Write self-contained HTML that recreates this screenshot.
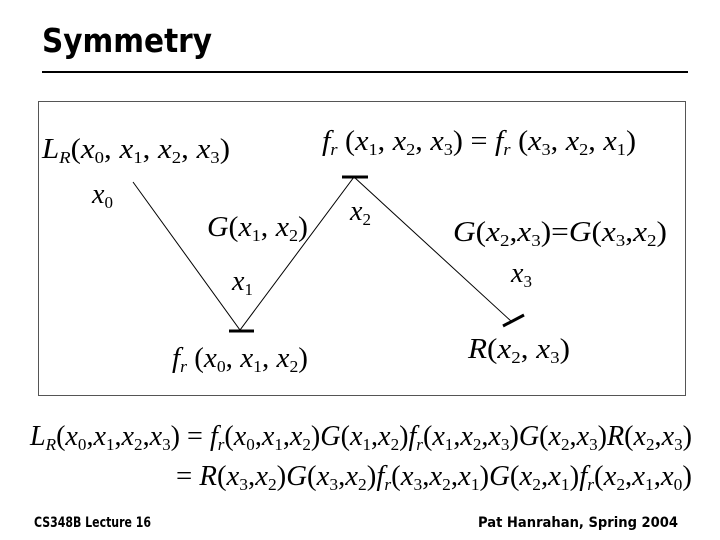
<!DOCTYPE html>
<html><head><meta charset="utf-8"><style>
html,body{margin:0;padding:0;background:#fff}
svg{display:block}
.m{font-family:"Liberation Serif",serif;font-size:28px;fill:#000}
.i{font-style:italic}
.s{font-size:17px}
.t{font-family:"DejaVu Sans","Liberation Sans",sans-serif;font-weight:bold}
</style></head><body>
<svg width="720" height="540" viewBox="0 0 720 540" xmlns="http://www.w3.org/2000/svg">
<text x="42" y="52" class="t" font-size="33" textLength="170" lengthAdjust="spacingAndGlyphs">Symmetry</text>
<rect x="42" y="71" width="646" height="2" fill="#000"/>
<rect x="38.5" y="101.5" width="647" height="294" fill="none" stroke="#555" stroke-width="1"/>
<g stroke="#000" stroke-width="1" fill="none">
<polyline points="133,182 240,330 354,177 512,322"/>
</g>
<g stroke="#000" stroke-width="3">
<line x1="229" y1="331" x2="254" y2="331"/>
<line x1="342" y1="177" x2="368" y2="177"/>
<line x1="503" y1="326" x2="524" y2="315"/>
</g>
<text class="m" x="42" y="158" textLength="188" lengthAdjust="spacingAndGlyphs"><tspan class="i">L</tspan><tspan class="s i" dy="5">R</tspan><tspan dy="-5">(</tspan><tspan class="i">x</tspan><tspan class="s" dy="5">0</tspan><tspan dy="-5">, </tspan><tspan class="i">x</tspan><tspan class="s" dy="5">1</tspan><tspan dy="-5">, </tspan><tspan class="i">x</tspan><tspan class="s" dy="5">2</tspan><tspan dy="-5">, </tspan><tspan class="i">x</tspan><tspan class="s" dy="5">3</tspan><tspan dy="-5">)</tspan></text>
<text class="m" x="322" y="150" textLength="314" lengthAdjust="spacingAndGlyphs"><tspan class="i">f</tspan><tspan class="s i" dy="5">r</tspan><tspan dy="-5"> (</tspan><tspan class="i">x</tspan><tspan class="s" dy="5">1</tspan><tspan dy="-5">, </tspan><tspan class="i">x</tspan><tspan class="s" dy="5">2</tspan><tspan dy="-5">, </tspan><tspan class="i">x</tspan><tspan class="s" dy="5">3</tspan><tspan dy="-5">) = </tspan><tspan class="i">f</tspan><tspan class="s i" dy="5">r</tspan><tspan dy="-5"> (</tspan><tspan class="i">x</tspan><tspan class="s" dy="5">3</tspan><tspan dy="-5">, </tspan><tspan class="i">x</tspan><tspan class="s" dy="5">2</tspan><tspan dy="-5">, </tspan><tspan class="i">x</tspan><tspan class="s" dy="5">1</tspan><tspan dy="-5">)</tspan></text>
<text class="m" x="92" y="203"><tspan class="i">x</tspan><tspan class="s" dy="5">0</tspan></text>
<text class="m" x="350" y="220"><tspan class="i">x</tspan><tspan class="s" dy="5">2</tspan></text>
<text class="m" x="232" y="290"><tspan class="i">x</tspan><tspan class="s" dy="5">1</tspan></text>
<text class="m" x="511" y="282"><tspan class="i">x</tspan><tspan class="s" dy="5">3</tspan></text>
<text class="m" x="207" y="236" textLength="101" lengthAdjust="spacingAndGlyphs"><tspan class="i">G</tspan><tspan>(</tspan><tspan class="i">x</tspan><tspan class="s" dy="5">1</tspan><tspan dy="-5">, </tspan><tspan class="i">x</tspan><tspan class="s" dy="5">2</tspan><tspan dy="-5">)</tspan></text>
<text class="m" x="453" y="241" textLength="214" lengthAdjust="spacingAndGlyphs"><tspan class="i">G</tspan><tspan>(</tspan><tspan class="i">x</tspan><tspan class="s" dy="5">2</tspan><tspan dy="-5">,</tspan><tspan class="i">x</tspan><tspan class="s" dy="5">3</tspan><tspan dy="-5">)=</tspan><tspan class="i">G</tspan><tspan>(</tspan><tspan class="i">x</tspan><tspan class="s" dy="5">3</tspan><tspan dy="-5">,</tspan><tspan class="i">x</tspan><tspan class="s" dy="5">2</tspan><tspan dy="-5">)</tspan></text>
<text class="m" x="172" y="367" textLength="136" lengthAdjust="spacingAndGlyphs"><tspan class="i">f</tspan><tspan class="s i" dy="5">r</tspan><tspan dy="-5"> (</tspan><tspan class="i">x</tspan><tspan class="s" dy="5">0</tspan><tspan dy="-5">, </tspan><tspan class="i">x</tspan><tspan class="s" dy="5">1</tspan><tspan dy="-5">, </tspan><tspan class="i">x</tspan><tspan class="s" dy="5">2</tspan><tspan dy="-5">)</tspan></text>
<text class="m" x="468" y="358" textLength="102" lengthAdjust="spacingAndGlyphs"><tspan class="i">R</tspan><tspan>(</tspan><tspan class="i">x</tspan><tspan class="s" dy="5">2</tspan><tspan dy="-5">, </tspan><tspan class="i">x</tspan><tspan class="s" dy="5">3</tspan><tspan dy="-5">)</tspan></text>
<text class="m" x="30" y="445" textLength="662" lengthAdjust="spacingAndGlyphs"><tspan class="i">L</tspan><tspan class="s i" dy="5">R</tspan><tspan dy="-5">(</tspan><tspan class="i">x</tspan><tspan class="s" dy="5">0</tspan><tspan dy="-5">,</tspan><tspan class="i">x</tspan><tspan class="s" dy="5">1</tspan><tspan dy="-5">,</tspan><tspan class="i">x</tspan><tspan class="s" dy="5">2</tspan><tspan dy="-5">,</tspan><tspan class="i">x</tspan><tspan class="s" dy="5">3</tspan><tspan dy="-5">) = </tspan><tspan class="i">f</tspan><tspan class="s i" dy="5">r</tspan><tspan dy="-5">(</tspan><tspan class="i">x</tspan><tspan class="s" dy="5">0</tspan><tspan dy="-5">,</tspan><tspan class="i">x</tspan><tspan class="s" dy="5">1</tspan><tspan dy="-5">,</tspan><tspan class="i">x</tspan><tspan class="s" dy="5">2</tspan><tspan dy="-5">)</tspan><tspan class="i">G</tspan><tspan>(</tspan><tspan class="i">x</tspan><tspan class="s" dy="5">1</tspan><tspan dy="-5">,</tspan><tspan class="i">x</tspan><tspan class="s" dy="5">2</tspan><tspan dy="-5">)</tspan><tspan class="i">f</tspan><tspan class="s i" dy="5">r</tspan><tspan dy="-5">(</tspan><tspan class="i">x</tspan><tspan class="s" dy="5">1</tspan><tspan dy="-5">,</tspan><tspan class="i">x</tspan><tspan class="s" dy="5">2</tspan><tspan dy="-5">,</tspan><tspan class="i">x</tspan><tspan class="s" dy="5">3</tspan><tspan dy="-5">)</tspan><tspan class="i">G</tspan><tspan>(</tspan><tspan class="i">x</tspan><tspan class="s" dy="5">2</tspan><tspan dy="-5">,</tspan><tspan class="i">x</tspan><tspan class="s" dy="5">3</tspan><tspan dy="-5">)</tspan><tspan class="i">R</tspan><tspan>(</tspan><tspan class="i">x</tspan><tspan class="s" dy="5">2</tspan><tspan dy="-5">,</tspan><tspan class="i">x</tspan><tspan class="s" dy="5">3</tspan><tspan dy="-5">)</tspan></text>
<text class="m" x="176" y="485" textLength="516" lengthAdjust="spacingAndGlyphs"><tspan>= </tspan><tspan class="i">R</tspan><tspan>(</tspan><tspan class="i">x</tspan><tspan class="s" dy="5">3</tspan><tspan dy="-5">,</tspan><tspan class="i">x</tspan><tspan class="s" dy="5">2</tspan><tspan dy="-5">)</tspan><tspan class="i">G</tspan><tspan>(</tspan><tspan class="i">x</tspan><tspan class="s" dy="5">3</tspan><tspan dy="-5">,</tspan><tspan class="i">x</tspan><tspan class="s" dy="5">2</tspan><tspan dy="-5">)</tspan><tspan class="i">f</tspan><tspan class="s i" dy="5">r</tspan><tspan dy="-5">(</tspan><tspan class="i">x</tspan><tspan class="s" dy="5">3</tspan><tspan dy="-5">,</tspan><tspan class="i">x</tspan><tspan class="s" dy="5">2</tspan><tspan dy="-5">,</tspan><tspan class="i">x</tspan><tspan class="s" dy="5">1</tspan><tspan dy="-5">)</tspan><tspan class="i">G</tspan><tspan>(</tspan><tspan class="i">x</tspan><tspan class="s" dy="5">2</tspan><tspan dy="-5">,</tspan><tspan class="i">x</tspan><tspan class="s" dy="5">1</tspan><tspan dy="-5">)</tspan><tspan class="i">f</tspan><tspan class="s i" dy="5">r</tspan><tspan dy="-5">(</tspan><tspan class="i">x</tspan><tspan class="s" dy="5">2</tspan><tspan dy="-5">,</tspan><tspan class="i">x</tspan><tspan class="s" dy="5">1</tspan><tspan dy="-5">,</tspan><tspan class="i">x</tspan><tspan class="s" dy="5">0</tspan><tspan dy="-5">)</tspan></text>
<text x="34" y="527" class="t" font-size="14" textLength="117" lengthAdjust="spacingAndGlyphs">CS348B Lecture 16</text>
<text x="478" y="527" class="t" font-size="14" textLength="200" lengthAdjust="spacingAndGlyphs">Pat Hanrahan, Spring 2004</text>
</svg>
</body></html>
